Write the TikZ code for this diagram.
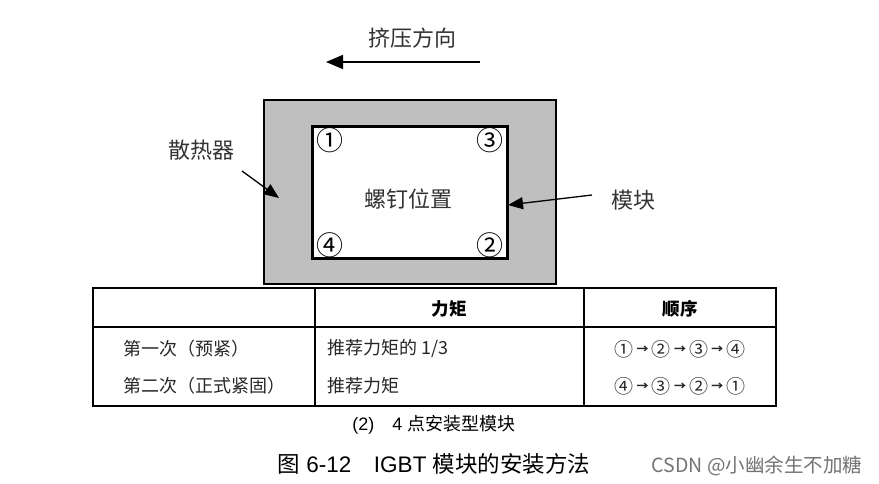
\documentclass[tikz,border=0pt]{standalone}
\usepackage{fontspec}
\setmainfont{Liberation Sans}
\newfontfamily\cjk{Noto Sans CJK SC}
\usetikzlibrary{arrows.meta}
\tikzset{
  lbl/.style={font=\cjk\fontsize{22}{26}\selectfont, text=black!80, inner sep=0pt},
  num/.style={font=\cjk\fontsize{27}{30}\selectfont, inner sep=0pt},
  cell/.style={font=\cjk\fontsize{18}{22}\selectfont, text=black!85, inner sep=0pt},
  seq/.style={font=\cjk\fontsize{19}{22}\selectfont, text=black!85, inner sep=0pt},
  head/.style={font=\cjk\bfseries\fontsize{17.5}{20}\selectfont, inner sep=0pt},
  bigarrow/.style={-{Triangle[length=17pt,width=14pt]}, line width=1.6pt},
  ptr/.style={-{Triangle[length=15pt,width=12pt]}, line width=1.3pt},
  tbl/.style={line width=1.4pt}
}
\newcommand{\sar}{\,\raisebox{2.5pt}{\fontsize{12}{12}\selectfont\bfseries →}\,}
\begin{document}
\begin{tikzpicture}[x=1pt,y=-1pt]
\useasboundingbox (0,0) rectangle (879,484);
% heatsink and module
\node[draw, line width=2.5pt, fill=black!25, minimum width=292pt, minimum height=184pt, inner sep=0pt] (hs) at (410,192) {};
\node[draw, line width=3pt, fill=white, minimum width=195pt, minimum height=131pt, inner sep=0pt] (mod) at (410,192.5) {};
\node[lbl] (screw) at (408,199) {螺钉位置};
\node[num] (n1) at (330,140) {①};
\node[num] (n3) at (490,140) {③};
\node[num] (n4) at (330,245) {④};
\node[num] (n2) at (490,245) {②};
% squeeze direction
\node[lbl] (sq) at (412,38) {挤压方向};
\coordinate (sqA) at (480,62);
\coordinate (sqB) at (326,62);
\draw[bigarrow] (sqA) -- (sqB);
% labels with pointers
\node[lbl] (hsl) at (201,150) {散热器};
\coordinate (hsA) at (242,171);
\coordinate (hsB) at (279,198);
\draw[ptr] (hsA) -- (hsB);
\node[lbl] (modl) at (633,200) {模块};
\coordinate (mA) at (592,195);
\coordinate (mB) at (508,205);
\draw[ptr] (mA) -- (mB);
% table
\draw[tbl] (93,288) rectangle (776,406);
\draw[tbl] (93,327) -- (776,327);
\draw[tbl] (315,288) -- (315,406);
\draw[tbl] (584,288) -- (584,406);
\node[head] (h1) at (449,309) {力矩};
\node[head] (h2) at (680,309) {顺序};
\node[cell, anchor=west] (r1a) at (123,349) {第一次（预紧）};
\node[cell, anchor=west] (r2a) at (123,386) {第二次（正式紧固）};
\node[cell, anchor=west] (r1b) at (327,349) {推荐力矩的 1/3};
\node[cell, anchor=west] (r2b) at (327,386) {推荐力矩};
\node[seq] (r1c) at (680,349) {①\sar②\sar③\sar④};
\node[seq] (r2c) at (680,386) {④\sar③\sar②\sar①};
% captions
\node[font=\fontsize{18}{22}\selectfont, inner sep=0pt] (cap1) at (434,425) {(2)\quad 4 {\cjk 点安装型模块}};
\node[font=\fontsize{22.5}{26}\selectfont, inner sep=0pt] (cap2) at (434,464) {{\cjk 图} 6-12\quad IGBT {\cjk 模块的安装方法}};
\node[font=\cjk\fontsize{19.5}{22}\selectfont, text=black!55, inner sep=0pt] (wm) at (757,466) {CSDN @小幽余生不加糖};
\end{tikzpicture}
\end{document}
